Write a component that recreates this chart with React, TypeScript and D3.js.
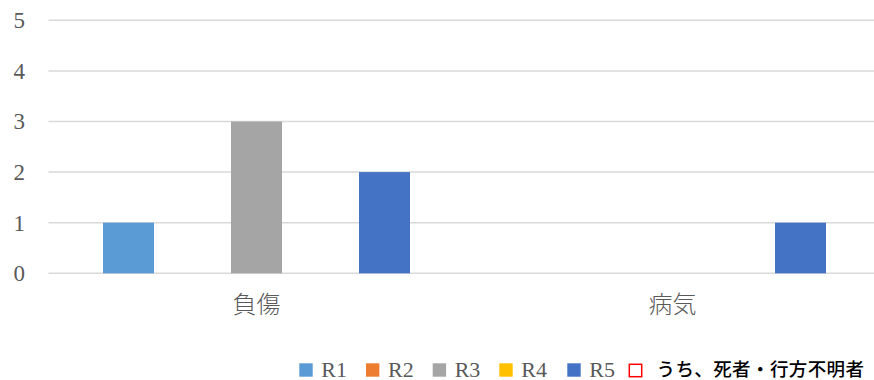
import React from "react";
import * as d3 from "d3";

const categories = ["負傷", "病気"];
const seriesNames = ["R1", "R2", "R3", "R4", "R5"];
const seriesColors = ["#5B9BD5", "#ED7D31", "#A5A5A5", "#FFC000", "#4472C4"];
const R1 = [1, 0];
const R2 = [0, 0];
const R3 = [3, 0];
const R4 = [0, 0];
const R5 = [2, 1];
const deathMissing = [0, 0];
const deathLabel = "うち、死者・行方不明者";
const yTicks = [0, 1, 2, 3, 4, 5];

const seriesValues = [R1, R2, R3, R4, R5];

const SERIF = "'Liberation Serif', 'Times New Roman', serif";
const JP = "'Noto Sans CJK JP', sans-serif";

export default function App() {
  const W = 874;
  const H = 380;
  const plotLeft = 48.5;
  const plotRight = 880.5;
  const y = d3.scaleLinear().domain([0, 5]).range([273.3, 20.3]);
  const x0 = d3.scaleBand<string>().domain(categories).range([plotLeft, plotRight]).padding(0);
  const bw0 = x0.bandwidth();
  const slot = 64;
  const inner = d3
    .scaleBand<string>()
    .domain(seriesNames)
    .range([(bw0 - slot * 5) / 2, (bw0 + slot * 5) / 2])
    .padding(0);
  const barW = 51;

  const legendX = [299.3, 366, 432.7, 499.3, 567.3];

  return (
    <svg width={W} height={H} style={{ position: "absolute", left: 0, top: 0, overflow: "hidden" }}>
      <rect width={W} height={H} fill="#fff" />
      {yTicks.map((t) => (
        <g key={t}>
          <line x1={plotLeft} x2={plotRight} y1={y(t)} y2={y(t)} stroke="#D9D9D9" strokeWidth={1.5} />
          <text
            x={25}
            y={y(t) + 7.8}
            textAnchor="end"
            style={{ fontFamily: SERIF, fontSize: "23px" }}
            fill="#595959"
          >
            {t}
          </text>
        </g>
      ))}
      {categories.map((c, ci) => (
        <g key={c}>
          {seriesNames.map((s, si) => {
            const v = seriesValues[si][ci];
            if (!v) return null;
            const bx = (x0(c) as number) + (inner(s) as number) + (slot - barW) / 2;
            return (
              <rect
                key={s}
                x={bx}
                y={y(v)}
                width={barW}
                height={y(0) - y(v)}
                fill={seriesColors[si]}
              />
            );
          })}
          <text
            x={(x0(c) as number) + bw0 / 2}
            y={302}
            textAnchor="middle"
            dominantBaseline="central"
            style={{ fontFamily: JP, fontSize: "24px", fontWeight: 300 }}
            fill="#595959"
          >
            {c}
          </text>
        </g>
      ))}
      {seriesNames.map((s, i) => (
        <g key={s}>
          <rect x={legendX[i]} y={363.3} width={13.4} height={13.4} fill={seriesColors[i]} />
          <text
            x={legendX[i] + 22}
            y={376.5}
            style={{ fontFamily: SERIF, fontSize: "22px" }}
            fill="#595959"
          >
            {s}
          </text>
        </g>
      ))}
      <g>
        <rect
          x={629.3}
          y={364.3}
          width={12.4}
          height={12.4}
          fill="#fff"
          stroke="#FF0000"
          strokeWidth={1.5}
          data-values={deathMissing.join(",")}
        />
        <text
          x={656.5}
          y={376.3}
          style={{ fontFamily: JP, fontSize: "18.5px", fontWeight: 500, letterSpacing: "0.4px" }}
          fill="#000"
        >
          {deathLabel}
        </text>
      </g>
    </svg>
  );
}
